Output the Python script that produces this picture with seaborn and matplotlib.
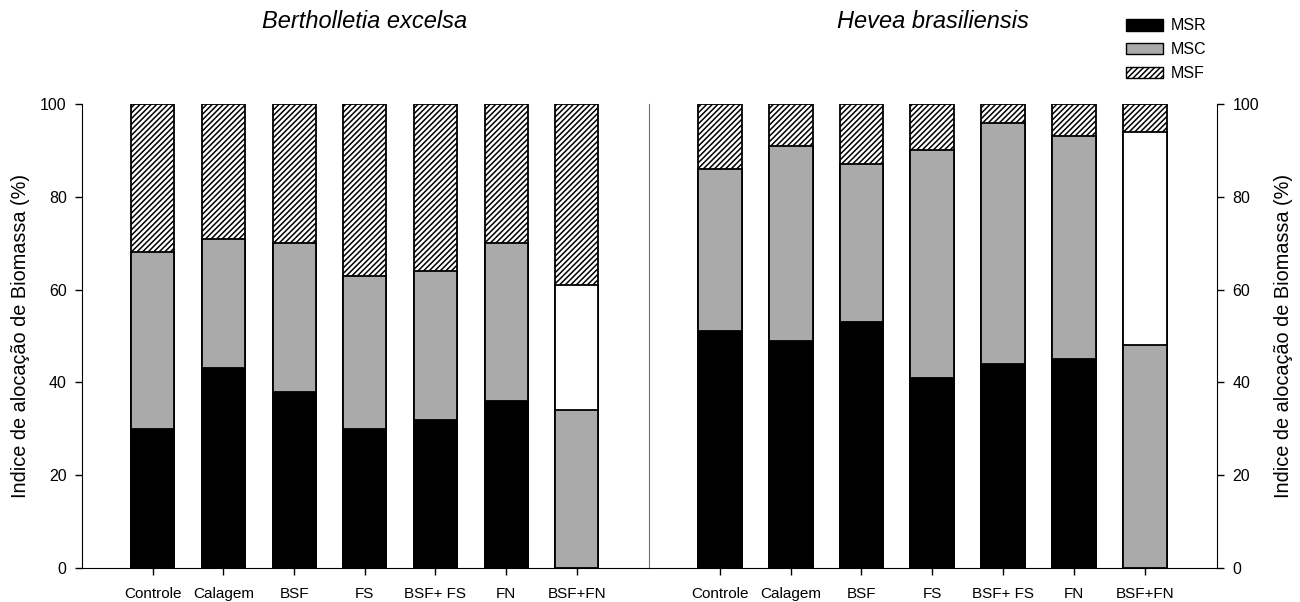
import matplotlib
matplotlib.use("Agg")
import matplotlib.pyplot as plt
import seaborn as sns
import numpy as np
from matplotlib.patches import Patch

sns.set_style("white")
plt.rcParams['font.family'] = ['Liberation Sans', 'DejaVu Sans']
plt.rcParams['hatch.linewidth'] = 1.1
plt.rcParams['text.color'] = 'black'
plt.rcParams['axes.labelcolor'] = 'black'
plt.rcParams['xtick.color'] = 'black'
plt.rcParams['ytick.color'] = 'black'

categories = ['Controle', 'Calagem', 'BSF', 'FS', 'BSF+ FS', 'FN', 'BSF+FN']

# Bertholletia excelsa (segment heights, bottom -> top)
be_msr = [30, 43, 38, 30, 32, 36, 34]
be_msc = [38, 28, 32, 33, 32, 34, 27]
be_msf = [32, 29, 30, 37, 36, 30, 39]

# Hevea brasiliensis
hb_msr = [51, 49, 53, 41, 44, 45, 48]
hb_msc = [35, 42, 34, 49, 52, 48, 46]
hb_msf = [14, 9, 13, 10, 4, 7, 6]

# last bar is drawn gray / white / hatched in the original
bottom_colors = ['black'] * 6 + ['#aaaaaa']
middle_colors = ['#aaaaaa'] * 6 + ['white']

fig = plt.figure(figsize=(13, 6.02), dpi=100)
ax1 = fig.add_axes([82 / 1300, 34 / 602, 567 / 1300, 464 / 602])
ax2 = fig.add_axes([649 / 1300, 34 / 602, 568 / 1300, 464 / 602])


def stacked(ax, msr, msc, msf, width):
    lower = np.array(msr)
    mid = lower + np.array(msc)
    top = mid + np.array(msf)
    sns.barplot(x=categories, y=top, hue=categories, palette=['white'] * 7,
                legend=False, width=width, edgecolor='black', linewidth=1.3, ax=ax)
    for p in ax.patches:
        p.set_hatch('//////')
    sns.barplot(x=categories, y=mid, hue=categories, palette=middle_colors,
                legend=False, width=width, edgecolor='black', linewidth=1.3, ax=ax)
    sns.barplot(x=categories, y=lower, hue=categories, palette=bottom_colors,
                legend=False, width=width, edgecolor='black', linewidth=1.3, ax=ax)
    ax.set_xlim(-1.0, 7.02)
    ax.set_ylim(0, 100)
    ax.set_yticks([0, 20, 40, 60, 80, 100])
    ax.set_xlabel('')
    ax.tick_params(axis='y', direction='out', length=5, width=1, labelsize=11.5, pad=6)
    ax.tick_params(axis='x', direction='out', length=5, width=1, bottom=True,
                   labelsize=11, pad=9)


stacked(ax1, be_msr, be_msc, be_msf, 0.61)
ax1.spines['top'].set_visible(False)
ax1.spines['right'].set_visible(False)
ax1.spines['left'].set_color('black')
ax1.spines['bottom'].set_color('black')
ax1.tick_params(axis='y', left=True)
ax1.set_ylabel('Indice de alocação de Biomassa (%)', fontsize=14.3, labelpad=7)

stacked(ax2, hb_msr, hb_msc, hb_msf, 0.62)
ax2.spines['top'].set_visible(False)
ax2.spines['left'].set_color('#707070')
ax2.spines['right'].set_color('black')
ax2.spines['bottom'].set_color('black')
ax2.yaxis.tick_right()
ax2.yaxis.set_label_position('right')
ax2.tick_params(axis='y', right=True, left=False)
ax2.set_ylabel('Indice de alocação de Biomassa (%)', fontsize=14.3, labelpad=11)

fig.text(365 / 1300, 1 - 22 / 602, 'Bertholletia excelsa', fontsize=17,
         style='italic', ha='center', va='center')
fig.text(933 / 1300, 1 - 22 / 602, 'Hevea brasiliensis', fontsize=17,
         style='italic', ha='center', va='center')

handles = [Patch(facecolor='black', edgecolor='black', label='MSR'),
           Patch(facecolor='#aaaaaa', edgecolor='black', label='MSC'),
           Patch(facecolor='white', edgecolor='black', hatch='//////', label='MSF')]
fig.legend(handles=handles, loc='upper left', bbox_to_anchor=(1120 / 1300, 1 - 12 / 602),
           frameon=False, fontsize=11.5, handlelength=2.3, handleheight=0.75,
           labelspacing=0.55, handletextpad=0.5, borderaxespad=0)

fig.savefig('out.png', dpi=100)
